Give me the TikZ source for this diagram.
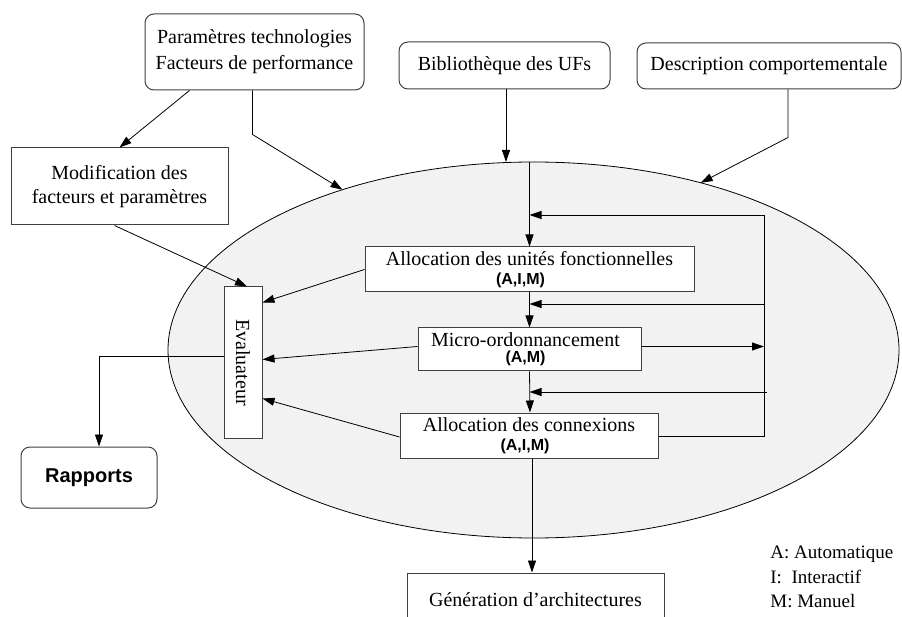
\documentclass[tikz,border=0pt]{standalone}
\usepackage{fontspec}
\usepackage{graphicx}
\setmainfont{Liberation Serif}
\setsansfont{Liberation Sans}
\usetikzlibrary{arrows.meta,shapes.geometric}

\newcommand{\modes}[1]{{\fontsize{16}{16}\selectfont\sffamily\bfseries #1}}

\tikzset{
  box/.style={draw=black!75, line width=1pt, fill=white, inner sep=0pt, align=center,
    font=\fontsize{20}{24}\selectfont},
  rbox/.style={box, rounded corners=9pt},
  arr/.style={-{Triangle[length=12pt,width=8pt]}},
}

\begin{document}
\begin{tikzpicture}[x=1pt, y=-1pt, line width=0.8pt]
			\useasboundingbox (0,0) rectangle (902,617);
			\clip (0,0) rectangle (902,617);
			
			%%%%% synthesis loop %%%%%
			\node[ellipse, draw, fill=black!5, minimum width=731pt, minimum height=376pt,
			  inner sep=0pt, outer sep=0pt] (synth) at (533.5,350) {};
			
			%%%%% inputs %%%%%
			\node[rbox, minimum width=219pt, minimum height=76pt] (param) at (254.5,52)
			  {Paramètres technologies\\[2pt]Facteurs de performance};
			\node[rbox, minimum width=211pt, minimum height=47pt] (biblio) at (504.5,65.5)
			  {Bibliothèque des UFs};
			\node[rbox, minimum width=264pt, minimum height=46pt] (descr) at (769,66)
			  {Description comportementale};
			\node[box, minimum width=217pt, minimum height=77pt] (modif) at (119.5,186.5)
			  {Modification des\\facteurs et paramètres};
			
			%%%%% steps %%%%%
			\node[box, minimum width=329pt, minimum height=45pt] (allocUF) at (529.5,269.5)
			  {Allocation des unités fonctionnelles\\[-5pt]\modes{(A,I,M)}\hspace*{18pt}};
			\node[box, minimum width=223pt, minimum height=43pt] (micro) at (529.5,349.5)
			  {Micro-ordonnancement\hspace*{8pt}\\[-8pt]\modes{(A,M)}\hspace*{8pt}};
			\node[box, minimum width=258pt, minimum height=45pt] (allocC) at (529,435.5)
			  {Allocation des connexions\\[-5pt]\modes{(A,I,M)}\hspace*{8pt}};
			
			\node[box, minimum width=38pt, minimum height=151pt] (eval) at (243,362.5)
			  {\rotatebox{-90}{Evaluateur}};
			\node[rbox, minimum width=136pt, minimum height=61pt,
			  font=\fontsize{20}{24}\selectfont\sffamily\bfseries] (rapports) at (89,477.5) {Rapports};
			\node[box, minimum width=257pt, minimum height=54pt] (gen) at (535.5,600)
			  {Génération d'architectures};
			
			\node[align=left, anchor=west, inner sep=0pt, font=\fontsize{19}{24.5}\selectfont]
			  (legend) at (770,577) {A: Automatique\\I:\ \ Interactif\\M: Manuel};
			
			%%%%% arrows into the loop %%%%%
			\draw[arr] ([xshift=-65pt]param.south) -- (modif.north);
			\draw[arr] ([xshift=-2pt]param.south) -- ++(0,44) -- (synth.140.5);
			\draw[arr] ([xshift=1.5pt]biblio.south) -- ([xshift=1.5pt]biblio.south |- synth.north);
			\draw[arr] ([xshift=19pt]descr.south) -- ++(0,48) -- (synth.45.5);
			
			\draw[arr] (allocUF.north |- synth.north) -- (allocUF.north);
			\draw[arr] (allocUF.south) -- (micro.north);
			\draw[arr] (micro.south) -- ([xshift=1pt]allocC.north);
			
			%%%%% feedback rail %%%%%
			\coordinate (fb1) at (764,215);
			\coordinate (fb2) at (764,304);
			\coordinate (fb3) at (767,392);
			\draw[arr] (fb1) -- (fb1 -| allocUF.north);
			\draw[arr] (fb2) -- (fb2 -| allocUF.north);
			\draw[arr] (fb3) -- (fb3 -| allocUF.north);
			\draw ([yshift=-1pt]allocC.east) -| (fb1);
			\draw[arr] ([yshift=3pt]micro.east) -- ([yshift=3pt]micro.east -| fb1);
			
			%%%%% evaluation %%%%%
			\draw[arr] ([xshift=-5pt]modif.south) -- ([xshift=4pt]eval.north);
			\draw[arr] (allocUF.west) -- ([yshift=-16pt]eval.north east);
			\draw[arr] ([yshift=3pt]micro.west) -- ([yshift=3pt]eval.east);
			\draw[arr] ([yshift=-1.5pt]allocC.west) -- ([yshift=40pt]eval.south east);
			\draw[arr] ([yshift=6pt]eval.west) -| ([xshift=10pt]rapports.north);
			
			\draw[arr] ([xshift=3pt]allocC.south) -- ([xshift=3pt]allocC.south |- gen.north);
			
		\end{tikzpicture}
\end{document}
